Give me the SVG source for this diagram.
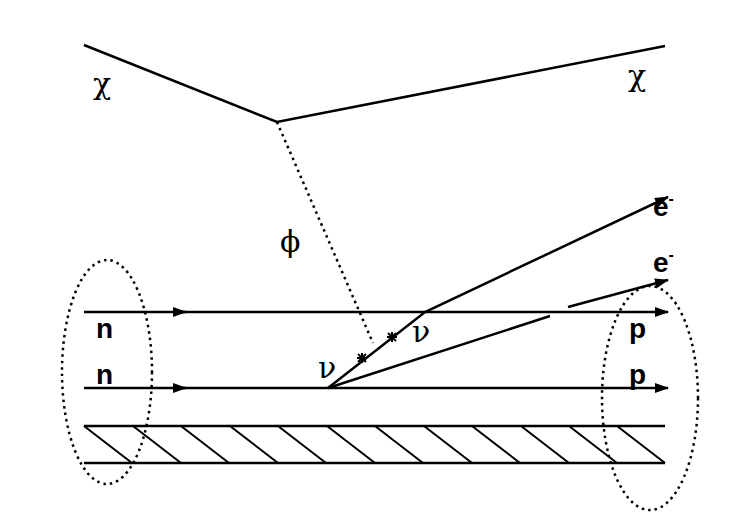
<svg xmlns="http://www.w3.org/2000/svg" width="751" height="528" viewBox="0 0 751 528">
<style>
.l{stroke:#000;stroke-width:2.5;fill:none}
.d{stroke:#000;stroke-width:2.5;fill:none;stroke-dasharray:2.5 4}
.h{stroke:#000;stroke-width:2;fill:none}
.s{stroke:#000;stroke-width:2;fill:none}
.b{font-family:"Liberation Sans",sans-serif;font-weight:bold;font-size:28px}
.g{font-family:"DejaVu Serif","Liberation Serif",serif;font-size:30px}
</style>
<defs><marker id="a" markerWidth="14" markerHeight="10" refX="13" refY="5" orient="auto" markerUnits="userSpaceOnUse"><path d="M0,0L14,5L0,10z"/></marker></defs>
<rect width="751" height="528" fill="#fff"/>
<g id="connectors">
<path class="l" d="M84,45L277,122L665,46"/>
<path class="d" d="M277,122L373,343"/>
<path class="l" d="M84,312H186" marker-end="url(#a)"/><path class="l" d="M180,312H668" marker-end="url(#a)"/>
<path class="l" d="M84,388H186" marker-end="url(#a)"/><path class="l" d="M180,388H668" marker-end="url(#a)"/>
<path class="l" d="M84,426H665M84,463H665"/>
<path class="h" d="M84,426l48,37M133,426l48,37M181,426l48,37M230,426l48,37M278,426l48,37M327,426l48,37M375,426l48,37M424,426l48,37M472,426l48,37M521,426l48,37M569,426l48,37M617,426l48,37"/>
<path class="l" d="M328,388L425,312L668,197" marker-end="url(#a)"/>
<path class="l" d="M328,388L550,316"/>
<path class="l" d="M568,307L668,280" marker-end="url(#a)"/>
<path class="s" d="M357,358h10M362,353v10M358,354l8,8M366,354l-8,8M387,337h10M392,332v10M388,333l8,8M396,333l-8,8"/>
<ellipse class="d" cx="107" cy="372" rx="45" ry="112"/>
<ellipse class="d" cx="650" cy="398" rx="48" ry="112"/>
</g>
<g id="labels">
<text class="g" x="93" y="94">χ</text>
<text class="g" x="628" y="86">χ</text>
<text class="g" x="280" y="252">ϕ</text>
<text class="g" x="318" y="378">ν</text>
<text class="g" x="412" y="342">ν</text>
<text class="b" x="653" y="216">e<tspan font-size="16" dy="-12">-</tspan></text>
<text class="b" x="653" y="272">e<tspan font-size="16" dy="-12">-</tspan></text>
<text class="b" x="96" y="338">n</text><text class="b" x="96" y="384">n</text>
<text class="b" x="629" y="338">p</text><text class="b" x="629" y="384">p</text>
</g>
</svg>
